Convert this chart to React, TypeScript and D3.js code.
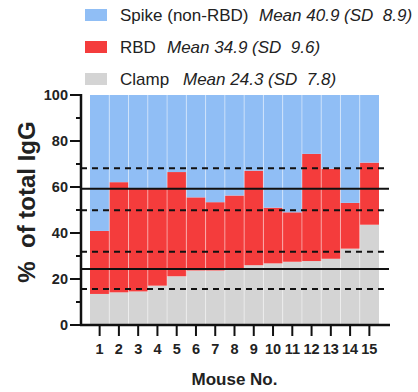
import React from 'react';
import * as d3 from 'd3';

// values (% of total IgG per mouse)
const mice = ['1', '2', '3', '4', '5', '6', '7', '8', '9', '10', '11', '12', '13', '14', '15'];
const clamp = [13.5, 14.2, 14.6, 17.1, 21.2, 23.7, 23.7, 24.1, 26.0, 26.8, 27.5, 27.8, 28.8, 33.2, 43.6];
const rbd = [27.4, 47.9, 45.0, 42.5, 45.3, 31.8, 29.7, 32.2, 41.1, 24.2, 21.5, 46.6, 39.1, 19.9, 27.0];
const meanLines = [24.3, 59.2];
const sdLines = [15.7, 31.9, 49.9, 68.2];
const yMajor = [0, 20, 40, 60, 80, 100];
const yMinor = [10, 30, 50, 70, 90];

const legendItems = [
  { name: 'Spike (non-RBD)', stat: 'Mean 40.9 (SD  8.9)', color: '#90bef5', statX: 259 },
  { name: 'RBD', stat: 'Mean 34.9 (SD  9.6)', color: '#f43c3c', statX: 167 },
  { name: 'Clamp', stat: 'Mean 24.3 (SD  7.8)', color: '#d4d4d4', statX: 183 },
];

const W = 418;
const H = 392;

export default function App() {
  const x = d3.scaleBand().domain(mice).range([90, 379]).padding(0);
  const y = d3.scaleLinear().domain([0, 100]).range([325, 95]);

  const rows = mice.map((m, i) => ({
    mouse: m,
    clamp: clamp[i],
    rbd: rbd[i],
    spike: 100 - clamp[i] - rbd[i],
  }));
  const keys = ['clamp', 'rbd', 'spike'];
  const colors: Record<string, string> = { clamp: '#d4d4d4', rbd: '#f43c3c', spike: '#90bef5' };
  const series = d3.stack<any>().keys(keys)(rows);

  const axisX = 81;
  const lineEnd = 389;
  const font = 'Liberation Sans, Arial, sans-serif';

  return (
    <div style={{ position: 'absolute', left: 0, top: 0 }}>
      <svg width={W} height={H} style={{ display: 'block', background: '#fff' }} fontFamily={font}>
        {/* legend */}
        {legendItems.map((d, i) => (
          <g key={d.name} transform={`translate(0, ${i * 32})`}>
            <rect x={85} y={9} width={22} height={12} fill={d.color} />
            <text x={120} y={21} fontSize={17} fill="#222">{d.name}</text>
            <text x={d.statX} y={21} fontSize={17} fontStyle="italic" fill="#222" style={{ whiteSpace: 'pre' }}>
              {d.stat}
            </text>
          </g>
        ))}

        {/* stacked bars */}
        {series.map((s) => (
          <g key={s.key} fill={colors[s.key]}>
            {s.map((d: any) => (
              <rect
                key={d.data.mouse}
                x={x(d.data.mouse)}
                y={y(d[1])}
                width={x.bandwidth()}
                height={y(d[0]) - y(d[1])}
              />
            ))}
          </g>
        ))}
        {/* faint separators between bars */}
        {mice.slice(1).map((m) => (
          <line key={m} x1={x(m)} x2={x(m)} y1={y(100)} y2={y(0)} stroke="#fff" strokeOpacity={0.45} strokeWidth={1} />
        ))}

        {/* mean and SD lines */}
        {sdLines.map((v) => (
          <line key={'sd' + v} x1={axisX} x2={lineEnd} y1={y(v)} y2={y(v)} stroke="#111" strokeWidth={2} strokeDasharray="6,5" />
        ))}
        {meanLines.map((v) => (
          <line key={'m' + v} x1={axisX} x2={lineEnd} y1={y(v)} y2={y(v)} stroke="#111" strokeWidth={2} />
        ))}

        {/* y axis */}
        <line x1={axisX} x2={axisX} y1={y(100) - 1} y2={y(0) + 1} stroke="#111" strokeWidth={2.5} />
        {yMajor.map((t) => (
          <g key={t}>
            <line x1={70} x2={axisX} y1={y(t)} y2={y(t)} stroke="#111" strokeWidth={2} />
            <text x={68} y={y(t)} dy="0.35em" textAnchor="end" fontSize={14.5} fontWeight="bold" fill="#222">{t}</text>
          </g>
        ))}
        {yMinor.map((t) => (
          <line key={t} x1={76} x2={axisX} y1={y(t)} y2={y(t)} stroke="#111" strokeWidth={2} />
        ))}

        {/* x axis */}
        <line x1={axisX - 1} x2={390} y1={y(0)} y2={y(0)} stroke="#111" strokeWidth={2.5} />
        {mice.map((m) => {
          const cx = (x(m) as number) + x.bandwidth() / 2;
          return (
            <g key={m}>
              <line x1={cx} x2={cx} y1={y(0)} y2={336} stroke="#111" strokeWidth={2} />
              <text x={cx} y={354} textAnchor="middle" fontSize={14.5} fontWeight="bold" fill="#222">{m}</text>
            </g>
          );
        })}

        {/* axis titles */}
        <text x={234.5} y={385} textAnchor="middle" fontSize={17} fontWeight="bold" fill="#222">Mouse No.</text>
        <text
          transform={`translate(35, 202) rotate(-90)`}
          textAnchor="middle"
          fontSize={24}
          fontWeight="bold"
          fill="#222"
          style={{ whiteSpace: 'pre' }}
        >
          %  of total IgG
        </text>
      </svg>
    </div>
  );
}
